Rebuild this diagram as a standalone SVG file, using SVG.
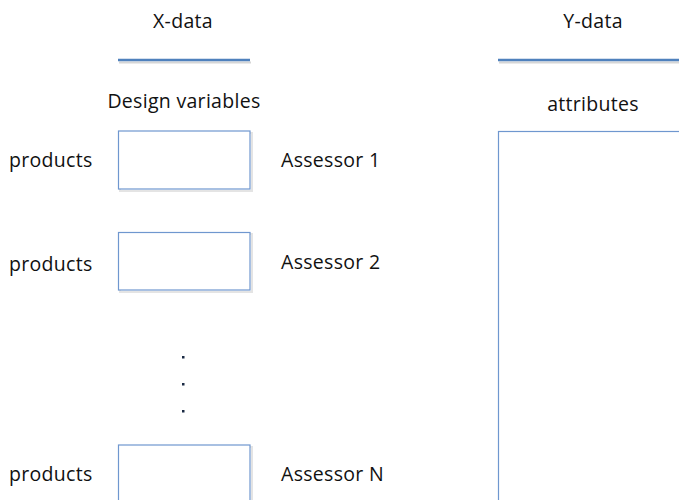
<svg xmlns="http://www.w3.org/2000/svg" width="679" height="500" viewBox="0 0 679 500">
<style>
text{font-family:"Open Sans","Liberation Sans",sans-serif;font-size:19.5px;letter-spacing:0.3px;fill:#111}
.c{text-anchor:middle}
.bar{stroke:#4F81BD;stroke-width:2.5;fill:none}
.sh{stroke:#d6d6d6;stroke-width:2;fill:none}
.box{fill:#fff;stroke:#6F97CF;stroke-width:1.2}
.boxsh{fill:none;stroke:#e4e4e4;stroke-width:2}
</style>
<rect width="679" height="500" fill="#fff"/>
<g id="xdata">
<text class="c" x="183" y="28">X-data</text>
<line class="sh" x1="119" y1="62.5" x2="251" y2="62.5"/>
<line class="bar" x1="118" y1="60" x2="250" y2="60"/>
<text class="c" x="184" y="108">Design variables</text>
</g>
<g id="ydata">
<text class="c" x="593" y="28">Y-data</text>
<line class="sh" x1="499" y1="62.5" x2="679" y2="62.5"/>
<line class="bar" x1="498" y1="60" x2="679" y2="60"/>
<text class="c" x="593" y="111">attributes</text>
</g>
<g id="ybox">
<rect class="box" x="498.5" y="131.5" width="200" height="400"/>
</g>
<g id="row1">
<text x="9" y="167">products</text>
<rect class="boxsh" x="120" y="133" width="132" height="58"/>
<rect class="box" x="118.5" y="131" width="131.5" height="58"/>
<text x="281" y="167">Assessor 1</text>
</g>
<g id="row2">
<text x="9" y="271">products</text>
<rect class="boxsh" x="120" y="234" width="132" height="58"/>
<rect class="box" x="118.5" y="232.5" width="131.5" height="57.5"/>
<text x="281" y="269">Assessor 2</text>
</g>
<g id="dots" fill="#1a2a44">
<rect x="182" y="356" width="2.5" height="2.5"/>
<rect x="182" y="383" width="2.5" height="2.5"/>
<rect x="182" y="410" width="2.5" height="2.5"/>
</g>
<g id="rowN">
<text x="9" y="481">products</text>
<rect class="boxsh" x="120" y="447" width="132" height="60"/>
<rect class="box" x="118.5" y="445" width="131.5" height="70"/>
<text x="281" y="481">Assessor N</text>
</g>
<g id="connectors"></g>
</svg>
